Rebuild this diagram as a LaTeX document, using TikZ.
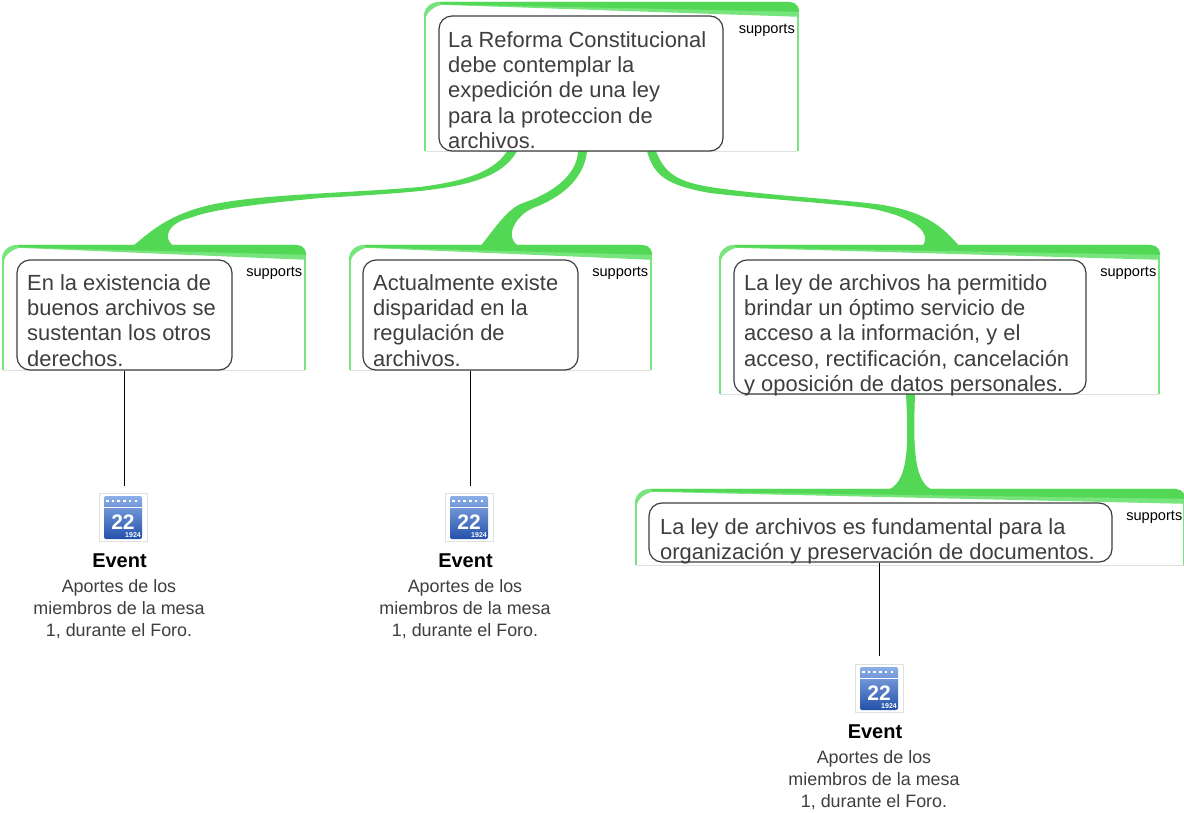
\documentclass[tikz,border=0pt]{standalone}
\usepackage{fontspec}
\setmainfont{Liberation Sans}
\usetikzlibrary{calc}
\definecolor{linkgreen}{RGB}{82,216,84}
\definecolor{edgegreen}{RGB}{120,228,125}
\definecolor{cardgrey}{RGB}{222,226,222}
\definecolor{inkgrey}{RGB}{62,62,62}
\definecolor{iconlight}{RGB}{140,175,232}
\definecolor{icondark}{RGB}{36,80,170}
\newcommand{\cardtop}[1]{
    \draw [edgegreen, line width=1.6pt] ([yshift=-14pt]#1.north west) -- (#1.south west);
    \draw [edgegreen, line width=1.6pt] ([yshift=-14pt]#1.north east) -- (#1.south east);
    \draw [cardgrey, line width=1pt] (#1.south west) -- (#1.south east);
    \fill [edgegreen] ([xshift=-1pt,yshift=-15pt]#1.north west) .. controls ([xshift=-1pt,yshift=-6pt]#1.north west) and ([xshift=6pt]#1.north west) .. ([xshift=15pt]#1.north west) -- ([xshift=16pt,yshift=-3pt]#1.north west) .. controls ([xshift=9pt,yshift=-5pt]#1.north west) and ([xshift=2pt,yshift=-10pt]#1.north west) .. ([xshift=1pt,yshift=-16pt]#1.north west) -- cycle;
    \fill [edgegreen] ([xshift=15pt]#1.north west) -- ([xshift=-14pt]#1.north east) .. controls ([xshift=-4pt]#1.north east) and ([xshift=1pt,yshift=-5pt]#1.north east) .. ([xshift=1pt,yshift=-15pt]#1.north east) -- ([xshift=16pt,yshift=-3pt]#1.north west) -- cycle;
    \fill [linkgreen] ([xshift=15pt]#1.north west) -- ([xshift=-14pt]#1.north east) .. controls ([xshift=-6pt]#1.north east) and (#1.north east) .. ([xshift=1pt,yshift=-10pt]#1.north east) -- ([xshift=16pt,yshift=-2.5pt]#1.north west) -- cycle;
}
\newcommand{\eventicon}[1]{
    \draw [cardgrey, fill=white] ([shift={(-24pt,-24pt)}]#1.center) rectangle ([shift={(24pt,24pt)}]#1.center);
    \shade [top color=iconlight, bottom color=icondark, rounded corners=2pt] ([shift={(-19pt,-22pt)}]#1.center) rectangle ([shift={(19pt,21pt)}]#1.center);
    \draw [white, line width=1pt] ([shift={(-19pt,10pt)}]#1.center) -- ([shift={(19pt,10pt)}]#1.center);
    \draw [white, line width=2.5pt, dash pattern=on 2.5pt off 3.2pt] ([shift={(-17pt,16pt)}]#1.center) -- ([shift={(17pt,16pt)}]#1.center);
    \node [white, font=\fontsize{7}{8}\selectfont\bfseries, anchor=south east] (#1year) at ([shift={(18pt,-21pt)}]#1.center) {1924};
    \node [white, font=\fontsize{21}{22}\selectfont\bfseries] (#1day) at ([yshift=-5pt]#1.center) {22};
}
\begin{document}
\begin{tikzpicture}[x=1pt,y=1pt]
    \tikzstyle{every node}+=[inner sep=0pt]
    \tikzstyle{card}=[fill=white, minimum height=#1]
    \tikzstyle{claimbox}=[draw=inkgrey, line width=1.2pt, rounded corners=13pt]
    \tikzstyle{claimtext}=[anchor=north west, align=left, text=inkgrey, font=\fontsize{21.9}{25.2}\selectfont]
    \tikzstyle{rellabel}=[anchor=east, text=black, font=\fontsize{14.6}{16}\selectfont]
    \tikzstyle{eventname}=[font=\fontsize{20}{24}\selectfont\bfseries, text=black]
    \tikzstyle{eventtext}=[align=center, text=inkgrey, font=\fontsize{17.9}{22}\selectfont]
    \useasboundingbox (0,0) rectangle (1184,-812);
    % frames
    \node [card=149pt, minimum width=373pt] (card0) at (611.5,-76.5) {};
    \node [card=125pt, minimum width=302pt] (card1) at (154,-307.5) {};
    \node [card=125pt, minimum width=301pt] (card2) at (500.5,-307.5) {};
    \node [card=149pt, minimum width=439pt] (card3) at (939.5,-319.5) {};
    \node [card=76pt, minimum width=548pt] (card4) at (910,-527) {};
    \cardtop{card0}
    \cardtop{card1}
    \cardtop{card2}
    \cardtop{card3}
    \cardtop{card4}
    % green links
    \fill [linkgreen] ([xshift=-104.5pt]card0.south) .. controls (492,-176) and (450,-183) .. (420,-187) .. controls (350,-193) and (270,-194) .. (220,-203) .. controls (170,-212) and (150,-232) .. ([xshift=-22pt,yshift=-2pt]card1.north) -- ([xshift=21pt,yshift=-2pt]card1.north) .. controls (160,-238) and (170,-222) .. (190,-218) .. controls (215,-208) and (270,-203) .. (320,-198) .. controls (355,-196) and (390,-194) .. (420,-191) .. controls (465,-186) and (502,-178) .. ([xshift=-94.5pt]card0.south) -- cycle;
    \fill [linkgreen] ([xshift=-33.5pt]card0.south) .. controls (577,-175) and (553,-193) .. (523,-203) .. controls (508,-208) and (495,-228) .. ([xshift=-20.5pt,yshift=-2pt]card2.north) -- ([xshift=19.5pt,yshift=-2pt]card2.north) .. controls (503,-238) and (515,-216) .. (533,-208) .. controls (560,-198) and (584,-180) .. ([xshift=-24.5pt]card0.south) -- cycle;
    \fill [linkgreen] ([xshift=35.5pt]card0.south) .. controls (654,-175) and (665,-185) .. (710,-193) .. controls (750,-198) and (830,-203) .. (867,-208) .. controls (905,-214) and (935,-230) .. ([xshift=-17.5pt,yshift=-2pt]card3.north) -- ([xshift=20.5pt,yshift=-2pt]card3.north) .. controls (945,-230) and (930,-213) .. (883,-205) .. controls (850,-200) and (760,-195) .. (710,-187) .. controls (680,-182) and (665,-175) .. ([xshift=44.5pt]card0.south) -- cycle;
    \fill [linkgreen] ([xshift=-33.5pt]card3.south) .. controls (909,-450) and (908,-485) .. ([xshift=-25pt,yshift=-2pt]card4.north) -- ([xshift=25pt,yshift=-2pt]card4.north) .. controls (914,-485) and (913,-450) .. ([xshift=-24.5pt]card3.south) -- cycle;
    % boxes
    \node [claimbox, fill=white, minimum width=284pt, minimum height=135pt] (box0) at (581,-83.5) {};
    \node [claimtext] (txt0) at (448,-31.5) {La Reforma Constitucional\\debe contemplar la\\expedición de una ley\\para la proteccion de\\archivos.};
    \node [claimbox, fill=white, minimum width=215pt, minimum height=110pt] (box1) at (124.5,-315) {};
    \node [claimtext] (txt1) at (27,-274.5) {En la existencia de\\buenos archivos se\\sustentan los otros\\derechos.};
    \node [claimbox, fill=white, minimum width=215pt, minimum height=110pt] (box2) at (470.5,-315) {};
    \node [claimtext] (txt2) at (373,-274.5) {Actualmente existe\\disparidad en la\\regulación de\\archivos.};
    \node [claimbox, fill=white, minimum width=352pt, minimum height=134pt] (box3) at (910,-327) {};
    \node [claimtext] (txt3) at (744,-274.5) {La ley de archivos ha permitido\\brindar un óptimo servicio de\\acceso a la información, y el\\acceso, rectificación, cancelación\\y oposición de datos personales.};
    \node [claimbox, fill=white, minimum width=463pt, minimum height=59pt] (box4) at (880.5,-532.5) {};
    \node [claimtext] (txt4) at (660,-518.5) {La ley de archivos es fundamental para la\\organización y preservación de documentos.};
    \node [rellabel] (rel0) at (795,-30) {supports};
    \node [rellabel] (rel1) at (302.5,-273) {supports};
    \node [rellabel] (rel2) at (648.5,-273) {supports};
    \node [rellabel] (rel3) at (1156.5,-273) {supports};
    \node [rellabel] (rel4) at (1182.5,-517) {supports};
    % events
    \node (icon1) at (123,-517) {};
    \node (icon2) at (469,-517) {};
    \node (icon3) at (879,-688) {};
    \eventicon{icon1}
    \eventicon{icon2}
    \eventicon{icon3}
    \node [eventname] (name1) at (119.5,-560.5) {Event};
    \node [eventname] (name2) at (465.5,-560.5) {Event};
    \node [eventname] (name3) at (875,-731.5) {Event};
    \node [eventtext] (note1) at (119,-609) {Aportes de los\\miembros de la mesa\\1, durante el Foro.};
    \node [eventtext] (note2) at (465,-609) {Aportes de los\\miembros de la mesa\\1, durante el Foro.};
    \node [eventtext] (note3) at (874,-780) {Aportes de los\\miembros de la mesa\\1, durante el Foro.};
    % event links
    \draw [black, line width=1.1pt] (box1.south) -- ([yshift=31pt]icon1.center -| box1.south);
    \draw [black, line width=1.1pt] (box2.south) -- ([yshift=31pt]icon2.center -| box2.south);
    \draw [black, line width=1.1pt] ([xshift=0.6pt]box4.south -| icon3) -- ([xshift=0.6pt,yshift=32pt]icon3.center);
\end{tikzpicture}
\end{document}
